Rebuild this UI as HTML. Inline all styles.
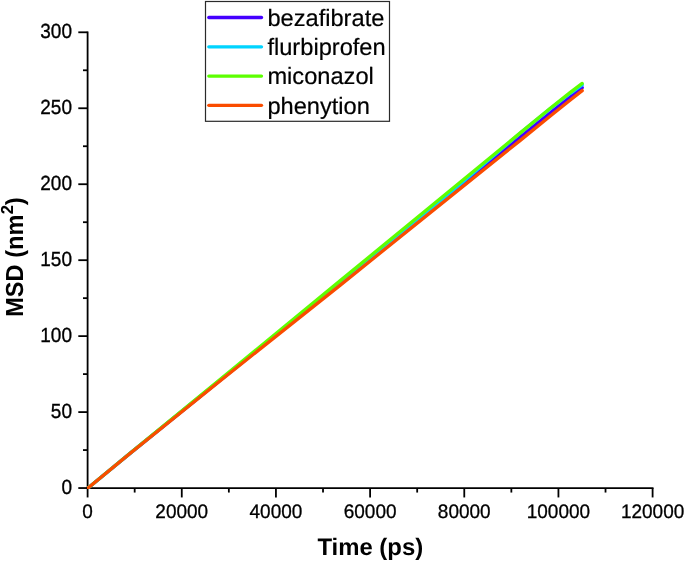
<!DOCTYPE html><html><head><meta charset="utf-8"><title>MSD</title><style>html,body{margin:0;padding:0;background:#fff}svg{display:block}text{text-rendering:geometricPrecision;font-family:"Liberation Sans",sans-serif;fill:#000}</style></head><body>
<svg width="685" height="562" viewBox="0 0 685 562">
<rect width="685" height="562" fill="#fff"/>
<defs><clipPath id="cp"><rect x="86.9" y="0" width="600" height="488.9"/></clipPath></defs>
<g stroke="#000" stroke-width="1.8" fill="none" stroke-linecap="butt">
<path d="M87.6 31.40 V488.95"/>
<path d="M86.70 488.05 H653.50"/>
<path d="M78.30 488.05 H87.6"/>
<path d="M87.60 488.05 V497.45"/>
<path d="M78.30 412.09 H87.6"/>
<path d="M181.77 488.05 V497.45"/>
<path d="M78.30 336.13 H87.6"/>
<path d="M275.93 488.05 V497.45"/>
<path d="M78.30 260.18 H87.6"/>
<path d="M370.10 488.05 V497.45"/>
<path d="M78.30 184.22 H87.6"/>
<path d="M464.27 488.05 V497.45"/>
<path d="M78.30 108.26 H87.6"/>
<path d="M558.43 488.05 V497.45"/>
<path d="M78.30 32.30 H87.6"/>
<path d="M652.60 488.05 V497.45"/>
<path d="M83.00 450.07 H87.6"/>
<path d="M134.68 488.05 V492.55"/>
<path d="M83.00 374.11 H87.6"/>
<path d="M228.85 488.05 V492.55"/>
<path d="M83.00 298.15 H87.6"/>
<path d="M323.02 488.05 V492.55"/>
<path d="M83.00 222.20 H87.6"/>
<path d="M417.18 488.05 V492.55"/>
<path d="M83.00 146.24 H87.6"/>
<path d="M511.35 488.05 V492.55"/>
<path d="M83.00 70.28 H87.6"/>
<path d="M605.52 488.05 V492.55"/>
</g>
<g font-size="19" stroke="#000" stroke-width="0.3">
<text transform="translate(72 494.00) scale(1 1.075)" text-anchor="end">0</text>
<text transform="translate(87.60 517.8) scale(1 1.03)" text-anchor="middle">0</text>
<text transform="translate(72 418.04) scale(1 1.075)" text-anchor="end">50</text>
<text transform="translate(181.77 517.8) scale(1 1.03)" text-anchor="middle">20000</text>
<text transform="translate(72 342.08) scale(1 1.075)" text-anchor="end">100</text>
<text transform="translate(275.93 517.8) scale(1 1.03)" text-anchor="middle">40000</text>
<text transform="translate(72 266.12) scale(1 1.075)" text-anchor="end">150</text>
<text transform="translate(370.10 517.8) scale(1 1.03)" text-anchor="middle">60000</text>
<text transform="translate(72 190.17) scale(1 1.075)" text-anchor="end">200</text>
<text transform="translate(464.27 517.8) scale(1 1.03)" text-anchor="middle">80000</text>
<text transform="translate(72 114.21) scale(1 1.075)" text-anchor="end">250</text>
<text transform="translate(558.43 517.8) scale(1 1.03)" text-anchor="middle">100000</text>
<text transform="translate(72 38.25) scale(1 1.075)" text-anchor="end">300</text>
<text transform="translate(652.60 517.8) scale(1 1.03)" text-anchor="middle">120000</text>
</g>
<g fill="none" stroke-width="3.3" stroke-linecap="round" stroke-linejoin="round" clip-path="url(#cp)">
<path d="M87.90 488.05 L130.00 453.39 L220.00 380.43 L340.00 283.41 L430.00 210.33 L520.00 137.39 L550.00 112.94 L570.00 96.98 L582.20 87.60" stroke="#4400FF"/>
<path d="M87.90 488.05 L130.00 453.40 L220.00 380.08 L340.00 282.69 L430.00 210.06 L520.00 133.34 L550.00 108.87 L570.00 93.55 L582.20 84.80" stroke="#00D4FF"/>
<path d="M87.90 488.05 L130.00 453.19 L220.00 379.61 L340.00 280.87 L430.00 206.95 L520.00 133.12 L550.00 108.46 L570.00 92.59 L582.20 83.40" stroke="#5DFF00"/>
<path d="M87.90 488.05 L130.00 453.50 L220.00 380.93 L340.00 285.34 L430.00 212.88 L520.00 140.61 L550.00 116.29 L570.00 100.21 L582.20 90.60" stroke="#FA4C00"/>
</g>
<rect x="205.5" y="1.5" width="184" height="119.8" fill="#fff" stroke="#2a2a2a" stroke-width="1.2"/>
<g font-size="23.65" stroke="#000" stroke-width="0.2">
<path d="M208.8 17.50 H261.5" stroke="#4400FF" stroke-width="3.3" stroke-linecap="round" fill="none"/>
<text x="267.4" y="25.70">bezafibrate</text>
<path d="M208.8 46.78 H261.5" stroke="#00D4FF" stroke-width="3.3" stroke-linecap="round" fill="none"/>
<text x="267.4" y="54.98">flurbiprofen</text>
<path d="M208.8 76.06 H261.5" stroke="#5DFF00" stroke-width="3.3" stroke-linecap="round" fill="none"/>
<text x="267.4" y="84.26">miconazol</text>
<path d="M208.8 105.34 H261.5" stroke="#FA4C00" stroke-width="3.3" stroke-linecap="round" fill="none"/>
<text x="267.4" y="113.54">phenytion</text>
</g>
<text x="370.3" y="555.15" font-size="23.9" font-weight="bold" text-anchor="middle">Time (ps)</text>
<text transform="translate(23.1 316.8) rotate(-90) scale(1 1.045)" font-size="23.6" font-weight="bold">MSD (nm<tspan font-size="16.6" dy="-9.6" dx="0.3">2</tspan><tspan dy="9.6" dx="-0.25">)</tspan></text>
</svg></body></html>
